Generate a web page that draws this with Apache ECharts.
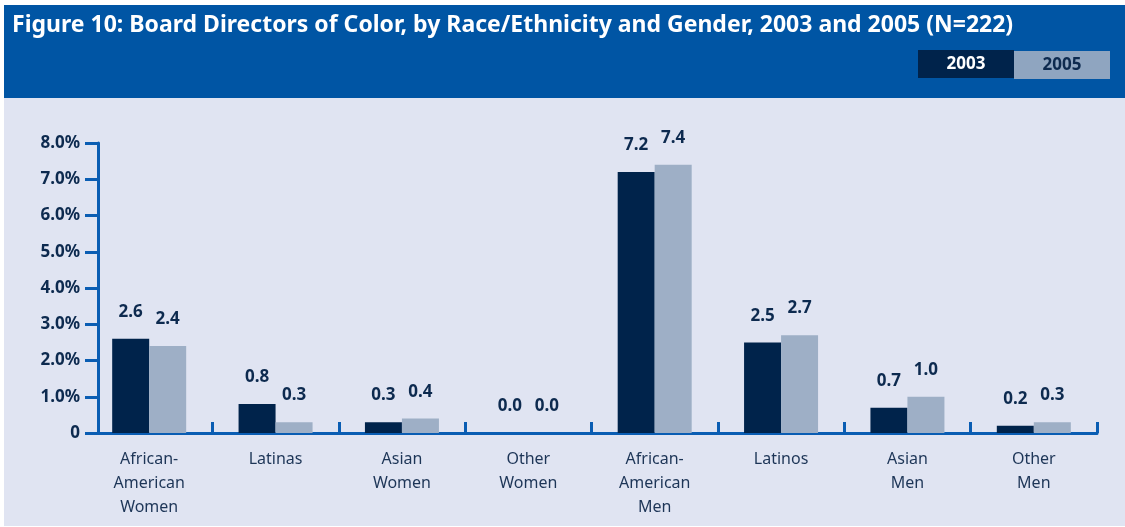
<!DOCTYPE html>
<html>
<head>
<meta charset="utf-8">
<title>Board Directors of Color</title>
<script src="https://cdn.jsdelivr.net/npm/echarts@6/dist/echarts.min.js"></script>
<style>
  html, body { margin: 0; padding: 0; background: #ffffff; }
  #chart { width: 1125px; height: 527px; }
</style>
</head>
<body>
<div id="chart"></div>
<script>
// data
var categories = ["African-\nAmerican\nWomen", "Latinas", "Asian\nWomen", "Other\nWomen",
                  "African-\nAmerican\nMen", "Latinos", "Asian\nMen", "Other\nMen"];
var seriesNames = ["2003", "2005"];
var values2003 = [2.6, 0.8, 0.3, 0.0, 7.2, 2.5, 0.7, 0.2];
var values2005 = [2.4, 0.3, 0.4, 0.0, 7.4, 2.7, 1.0, 0.3];
var yTicks = [0, 1, 2, 3, 4, 5, 6, 7, 8];

var dark = "#00234b";
var light = "#9eafc6";
var axisBlue = "#0a5db3";
var textDark = "#0d2a4f";
var font = "Noto Sans";

var chart = echarts.init(document.getElementById("chart"));

function barLabel() {
  return {
    show: true,
    position: "top",
    distance: 18,
    fontFamily: font,
    fontWeight: "bold",
    fontSize: 17,
    color: textDark,
    formatter: function (p) { return p.value.toFixed(1); }
  };
}

var option = {
  backgroundColor: "#ffffff",
  animation: false,
  graphic: [
    { type: "rect", z: -10, shape: { x: 4, y: 5, width: 1121, height: 93 }, style: { fill: "#0055a4" } },
    { type: "rect", z: -10, shape: { x: 4, y: 98, width: 1121, height: 428 }, style: { fill: "#e0e4f2" } },
    { type: "text", left: 12, top: 14, style: {
        text: "Figure 10: Board Directors of Color, by Race/Ethnicity and Gender, 2003 and 2005 (N=222)",
        fill: "#ffffff", font: "bold 23px 'Noto Sans'" } },
    { type: "rect", shape: { x: 918, y: 50, width: 96, height: 28 }, style: { fill: dark } },
    { type: "rect", shape: { x: 1014, y: 51, width: 96, height: 28 }, style: { fill: "#8fa5c0" } },
    { type: "text", x: 966, y: 64, style: { text: seriesNames[0], fill: "#ffffff",
        font: "bold 17px 'Noto Sans'", textAlign: "center", textVerticalAlign: "middle" } },
    { type: "text", x: 1062, y: 65, style: { text: seriesNames[1], fill: textDark,
        font: "bold 17px 'Noto Sans'", textAlign: "center", textVerticalAlign: "middle" } }
  ],
  grid: [
    { left: 86, right: 28, top: 143, bottom: 94 },
    { left: 98, right: 28, top: 143, bottom: 94 }
  ],
  xAxis: [
    {
      gridIndex: 0,
      type: "category",
      data: categories,
      axisLine: { show: false },
      axisTick: {
        show: true, inside: true, length: 11,
        interval: function (i) { return i !== 0; },
        lineStyle: { color: axisBlue, width: 3 }
      },
      axisLabel: {
        margin: 14,
        interval: 0,
        fontFamily: font,
        fontSize: 16,
        lineHeight: 24,
        color: "#1d3557"
      }
    },
    {
      gridIndex: 1,
      type: "value",
      min: 0,
      max: 1,
      axisLine: { show: true, onZero: false, lineStyle: { color: axisBlue, width: 3 } },
      axisTick: { show: false },
      axisLabel: { show: false },
      splitLine: { show: false }
    }
  ],
  yAxis: [
    { gridIndex: 0, type: "value", min: 0, max: 8, interval: 1, show: false },
    {
      gridIndex: 1,
      type: "value",
      min: yTicks[0],
      max: yTicks[yTicks.length - 1],
      interval: 1,
      axisLine: { show: true, lineStyle: { color: axisBlue, width: 3 } },
      axisTick: { show: true, length: 13, lineStyle: { color: axisBlue, width: 3 } },
      splitLine: { show: false },
      axisLabel: {
        margin: 18,
        fontFamily: font,
        fontWeight: "bold",
        fontSize: 17,
        color: textDark,
        formatter: function (v) { return v === 0 ? "0" : v.toFixed(1) + "%"; }
      }
    }
  ],
  series: [
    {
      name: seriesNames[0], type: "bar", xAxisIndex: 0, yAxisIndex: 0,
      data: values2003, barWidth: 37, barGap: "0%",
      itemStyle: { color: dark }, label: barLabel()
    },
    {
      name: seriesNames[1], type: "bar", xAxisIndex: 0, yAxisIndex: 0,
      data: values2005, barWidth: 37, barGap: "0%",
      itemStyle: { color: light }, label: barLabel()
    }
  ]
};

chart.setOption(option);
</script>
</body>
</html>
